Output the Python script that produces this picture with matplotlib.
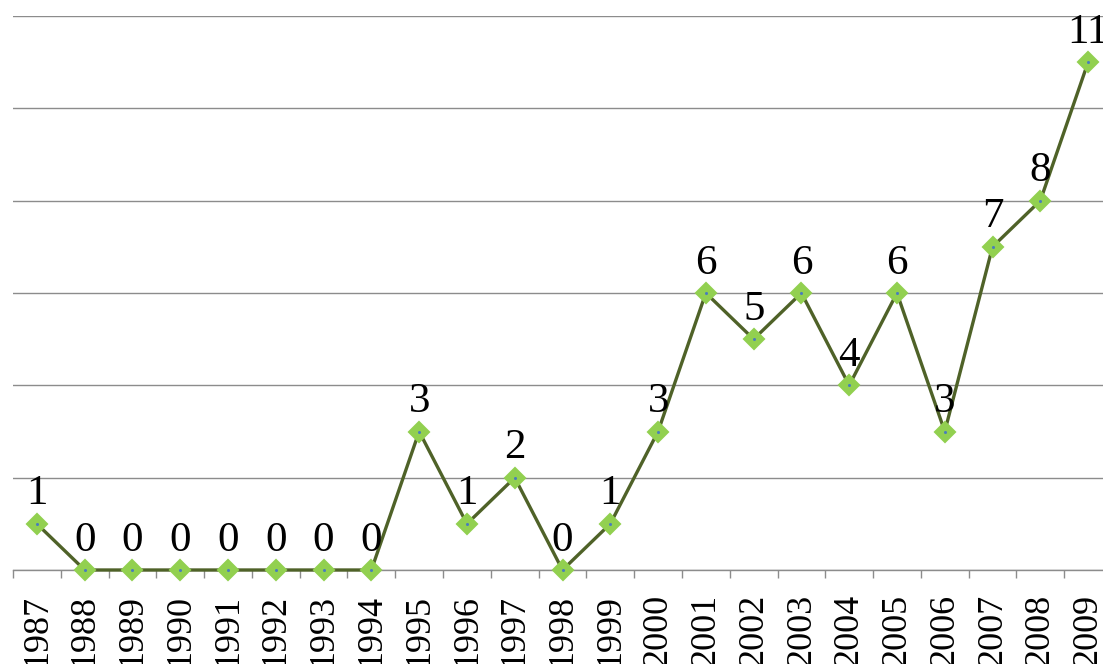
import matplotlib
matplotlib.use("Agg")
import matplotlib.pyplot as plt
from matplotlib.ticker import FixedLocator

years = [str(y) for y in range(1987, 2010)]
counts = [1, 0, 0, 0, 0, 0, 0, 0, 3, 1, 2, 0, 1, 3, 6, 5, 6, 4, 6, 3, 7, 8, 11]
y_ticks = [0, 2, 4, 6, 8, 10, 12]

plt.rcParams['font.family'] = ['Liberation Serif', 'DejaVu Serif']

fig = plt.figure(figsize=(11.03, 6.64), dpi=100)
ax = fig.add_axes([13 / 1103, 94 / 664, 1099 / 1103, 554 / 664])

x = list(range(len(years)))
ax.plot(x, counts, color='#4f6228', linewidth=2.4, zorder=3,
        marker='D', markersize=10.5, markerfacecolor='#92d050',
        markeredgecolor='#92d050', markeredgewidth=1.5, clip_on=False)
ax.plot(x, counts, linestyle='none', marker='o', markersize=1.2,
        color='#4a7ebb', zorder=4, clip_on=False)

for xi, v in zip(x, counts):
    ax.annotate(str(v), (xi, v), xytext=(0, 14), textcoords='offset points',
                ha='center', va='baseline', fontsize=31, color='black',
                annotation_clip=False)

ax.set_xlim(-0.5, len(years) - 0.5)
ax.set_ylim(0, 12)
ax.set_yticks(y_ticks)
ax.tick_params(axis='y', length=0, labelleft=False)
ax.grid(axis='y', color='#8c8c8c', linewidth=1.0)
ax.set_axisbelow(True)

ax.set_xticks(x)
ax.set_xticklabels(years, rotation=90, fontsize=26)
ax.tick_params(axis='x', which='major', length=0, pad=17)
ax.xaxis.set_minor_locator(FixedLocator([i - 0.5 for i in range(len(years) + 1)]))
ax.tick_params(axis='x', which='minor', length=6, width=1.0, color='#8c8c8c',
               direction='out')

for side in ('left', 'right', 'top'):
    ax.spines[side].set_visible(False)
ax.spines['bottom'].set_color('#8c8c8c')
ax.spines['bottom'].set_linewidth(1.0)
ax.spines['bottom'].set_zorder(2)

fig.savefig('out.png', dpi=100)
